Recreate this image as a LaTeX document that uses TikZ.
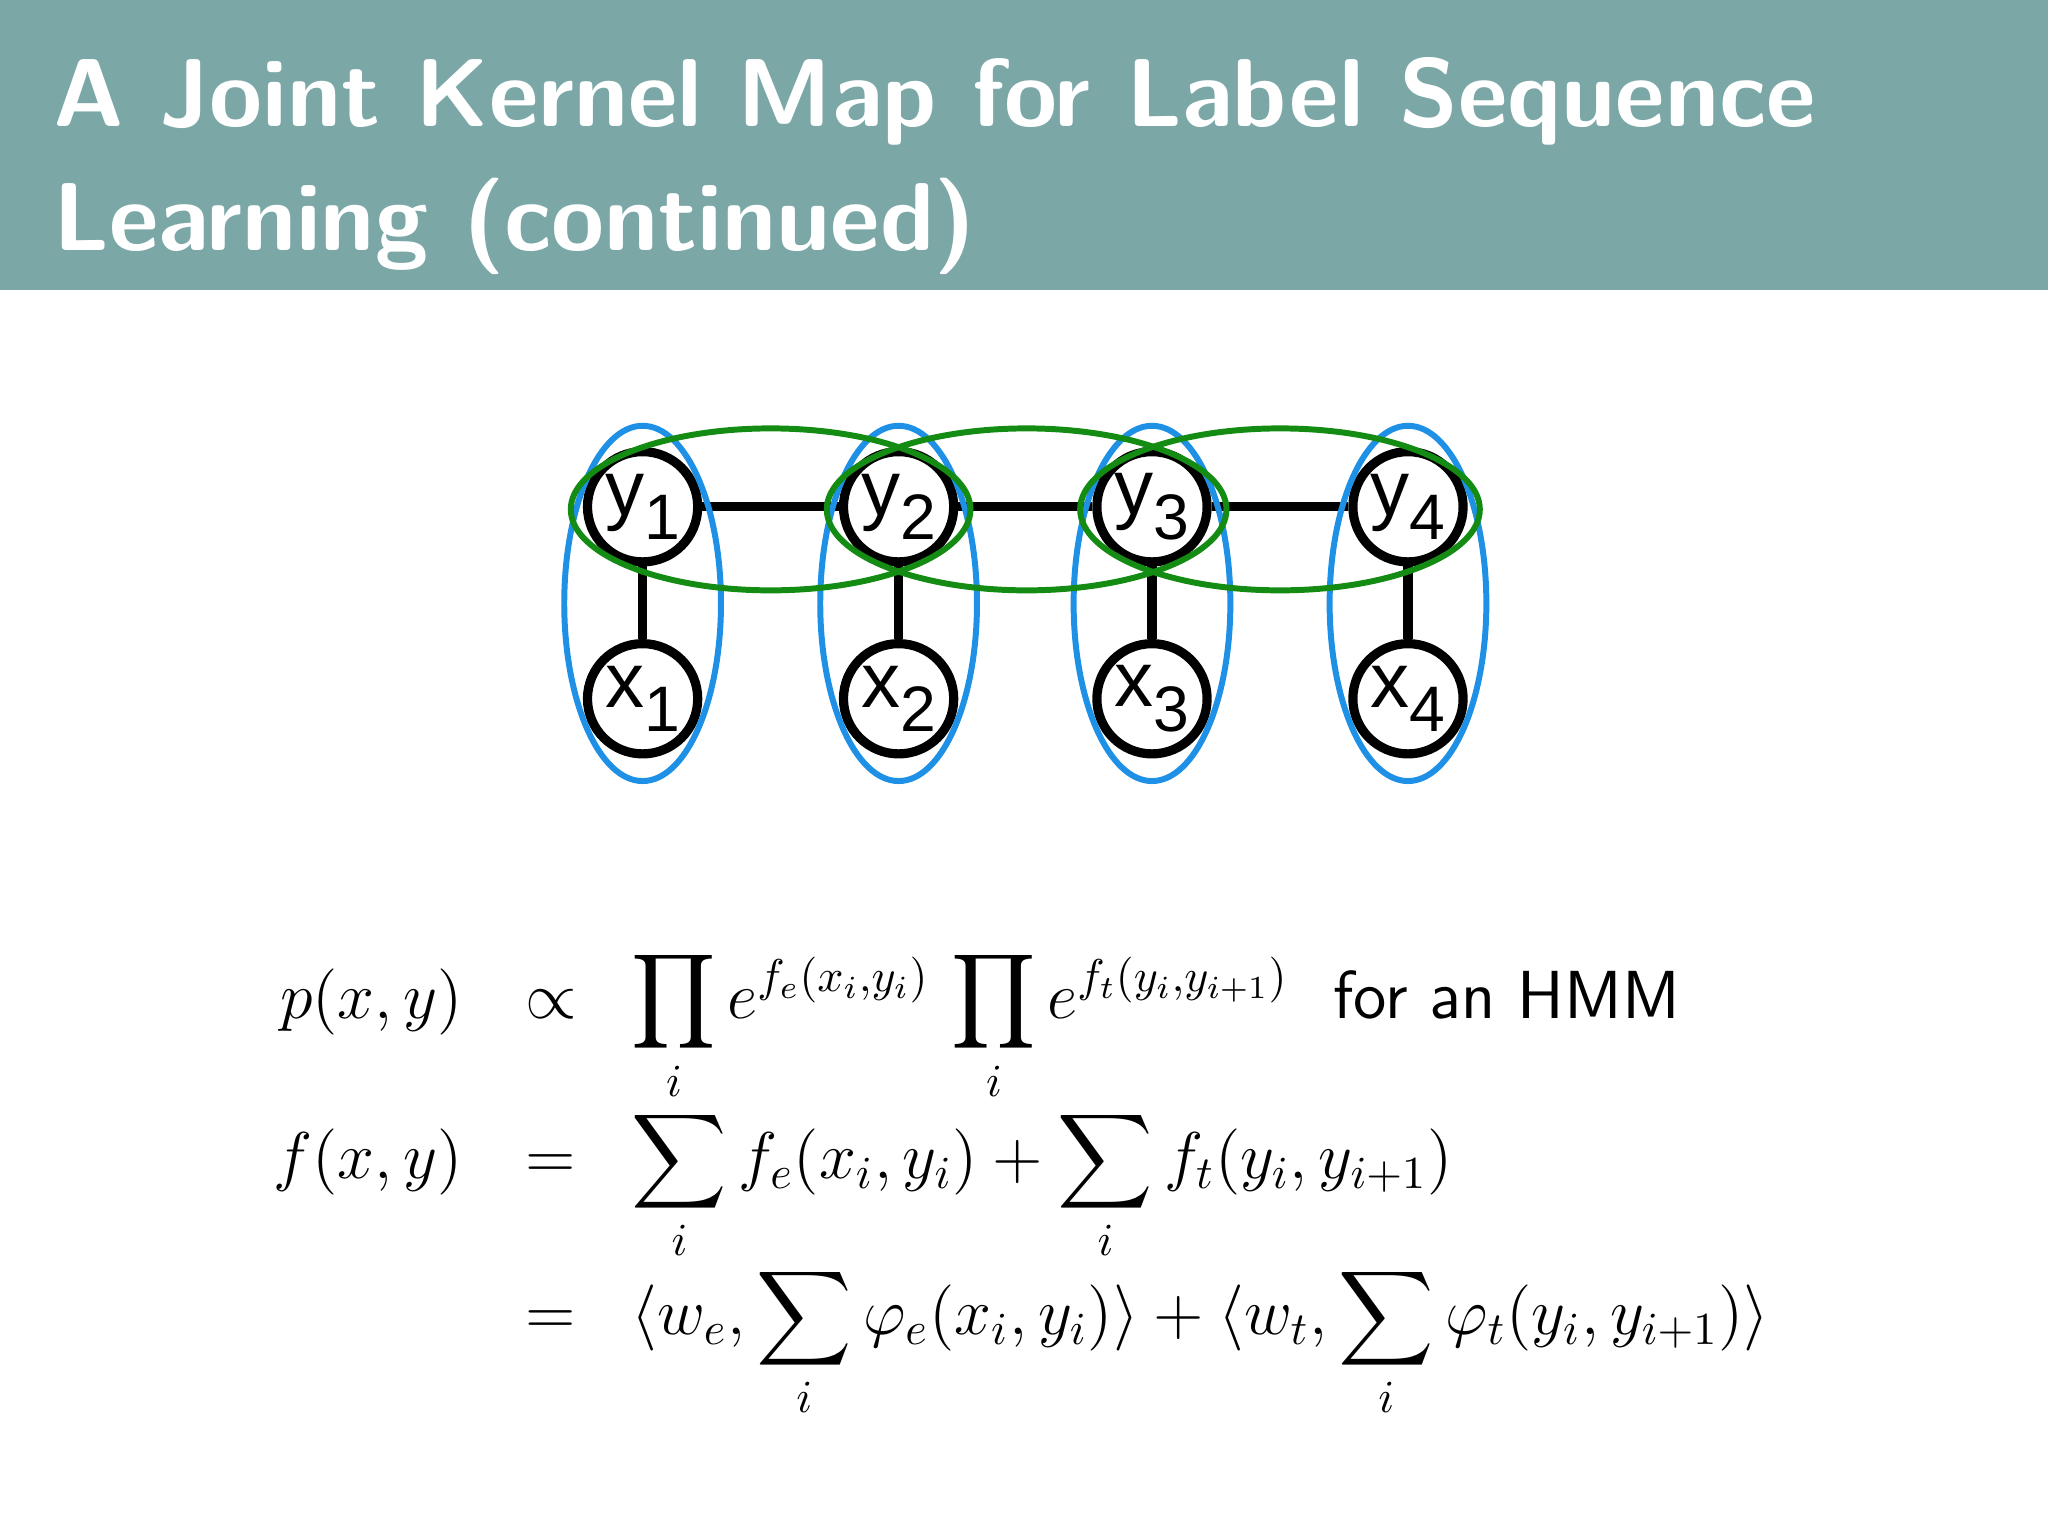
\documentclass[tikz,border=0pt]{standalone}
\usepackage{amsmath}
\usepackage{fontspec}
\newfontfamily\hv{Liberation Sans}
\begin{document}
\begin{tikzpicture}[x=0.01cm,y=-0.01cm,
  gn/.style={circle,draw=black,line width=2pt,minimum size=24pt,inner sep=0pt,fill=white,font=\hv\fontsize{17}{17}\selectfont},
  edge/.style={line width=2pt},
  bl/.style={draw={rgb,255:red,30;green,144;blue,230},line width=1.3pt},
  gr/.style={draw={rgb,255:red,20;green,140;blue,20},line width=1.3pt},
  eq/.style={inner sep=0pt,font=\fontsize{14.8}{18}\selectfont}]
\useasboundingbox (0,0) rectangle (1568,1176);
\fill[fill={rgb,255:red,123;green,167;blue,167}] (0,0) rectangle (1568,222);
\node[anchor=base west,text=white,font=\sffamily\bfseries\fontsize{21}{26}\selectfont,inner sep=0pt] (t1) at (40,97) {A Joint Kernel Map for Label Sequence};
\node[anchor=base west,text=white,font=\sffamily\bfseries\fontsize{21}{26}\selectfont,inner sep=0pt] (t2) at (40,192) {Learning (continued)};
\foreach \i/\x in {1/492,2/688,3/882,4/1078}{
  \node[gn] (y\i) at (\x,388) {y\raisebox{-0.6ex}{\fontsize{14}{14}\selectfont\i}};
  \node[gn] (x\i) at (\x,535) {x\raisebox{-0.6ex}{\fontsize{14}{14}\selectfont\i}};
  \draw[edge] (y\i) -- (x\i);
}
\draw[edge] (y1)--(y2) (y2)--(y3) (y3)--(y4);
\foreach \x in {492,688,882,1078} \draw[bl] (\x,462) ellipse [x radius=60,y radius=136];
\foreach \x in {590,786,980} \draw[gr] (\x,390) ellipse [x radius=153,y radius=62];
% equations
\node[eq,anchor=base east] (l1) at (355,780) {$p(x,y)$};
\node[eq,anchor=base] (r1) at (422,780) {$\propto$};
\node[eq,anchor=base west] (e1) at (483,780) {$\displaystyle\prod_i e^{f_e(x_i,y_i)}\,\prod_i e^{f_t(y_i,y_{i+1})}$};
\node[eq,anchor=base west,font=\sffamily\fontsize{14.8}{18}\selectfont] (h) at (1020,780) {for an HMM};
\node[eq,anchor=base east] (l2) at (355,902) {$f(x,y)$};
\node[eq,anchor=base] (r2) at (422,902) {$=$};
\node[eq,anchor=base west] (e2) at (483,902) {$\displaystyle\sum_i f_e(x_i,y_i)+\sum_i f_t(y_i,y_{i+1})$};
\node[eq,anchor=base] (r3) at (422,1022) {$=$};
\node[eq,anchor=base west] (e3) at (483,1022) {$\displaystyle\langle w_e,\sum_i \varphi_e(x_i,y_i)\rangle+\langle w_t,\sum_i \varphi_t(y_i,y_{i+1})\rangle$};
\end{tikzpicture}
\end{document}
